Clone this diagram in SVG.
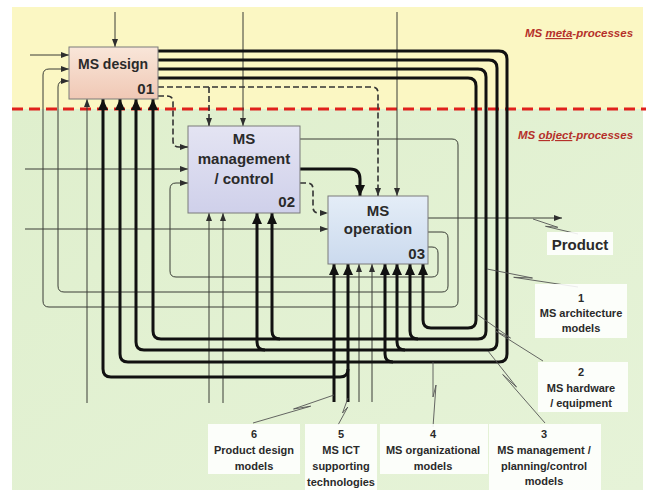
<svg xmlns="http://www.w3.org/2000/svg" width="646" height="490" viewBox="0 0 646 490">
  <defs>
    <linearGradient id="g01" x1="0" y1="0" x2="0" y2="1">
      <stop offset="0" stop-color="#f9e6d9"/>
      <stop offset="1" stop-color="#f0c8b5"/>
    </linearGradient>
    <linearGradient id="g02" x1="0" y1="0" x2="0" y2="1">
      <stop offset="0" stop-color="#e4e4f3"/>
      <stop offset="1" stop-color="#cfd0ea"/>
    </linearGradient>
    <linearGradient id="g03" x1="0" y1="0" x2="0" y2="1">
      <stop offset="0" stop-color="#e4edf7"/>
      <stop offset="1" stop-color="#cbdaee"/>
    </linearGradient>
    <linearGradient id="gLow" x1="0" y1="0" x2="1" y2="1">
      <stop offset="0" stop-color="#dfefcd"/>
      <stop offset="1" stop-color="#e6f3d8"/>
    </linearGradient>
    <marker id="ah" viewBox="0 0 8 6" refX="8" refY="3" markerWidth="8" markerHeight="6" markerUnits="userSpaceOnUse" orient="auto">
      <path d="M0 0L8 3L0 6z" fill="#2e2e2e"/>
    </marker>
    <marker id="ahb" viewBox="0 0 11 10" refX="11" refY="5" markerWidth="11" markerHeight="10" markerUnits="userSpaceOnUse" orient="auto">
      <path d="M0 0L11 5L0 10z" fill="#111"/>
    </marker>
    <style>
      .thin{fill:none;stroke:#3a3d36;stroke-width:1}
      .thick{fill:none;stroke:#111;stroke-width:3}
      .dash{fill:none;stroke:#333;stroke-width:1.6;stroke-dasharray:6 3}
      .box{stroke:#7a7a7a;stroke-width:1}
      .bt{font-family:"Liberation Sans",Arial,sans-serif;font-weight:bold;font-size:15px;fill:#2a2a2a;text-anchor:middle}
      .num{font-family:"Liberation Sans",Arial,sans-serif;font-weight:bold;font-size:15px;fill:#2a2a2a;text-anchor:end}
      .lbl{font-family:"Liberation Sans",Arial,sans-serif;font-weight:bold;font-size:11px;fill:#2a2a2a;text-anchor:middle}
      .zone{font-family:"Liberation Sans",Arial,sans-serif;font-weight:bold;font-style:italic;font-size:11.5px;fill:#b5302a}
      .lead{fill:none;stroke:#555;stroke-width:0.9}
      .lbg{fill:#ffffff;opacity:0.88}
    </style>
  </defs>

  <!-- background zones -->
  <rect x="12" y="7" width="631" height="102" fill="#fbf7c3"/>
  <rect x="12" y="109" width="631" height="381" fill="url(#gLow)"/>
  <line x1="12" y1="109" x2="646" y2="109" stroke="#e0211c" stroke-width="3" stroke-dasharray="11 6"/>
  <text class="zone" x="525" y="37">MS <tspan text-decoration="underline">meta</tspan>-processes</text>
  <text class="zone" x="518" y="139">MS <tspan text-decoration="underline">object</tspan>-processes</text>

  <g id="connectors">
    <!-- thin inputs, controls, feedback loops and mechanisms -->
    <path class="thin" marker-end="url(#ah)" d="M115 12V47"/>
    <path class="thin" marker-end="url(#ah)" d="M30 55H69"/>
    <path class="thin" marker-end="url(#ah)" d="M300 139H452Q458 139 458 145V301Q458 307 452 307H49Q43 307 43 301V75Q43 69 49 69H69"/>
    <path class="thin" marker-end="url(#ah)" d="M428 232H442Q448 232 448 238V286Q448 292 442 292H64Q58 292 58 286V87Q58 81 64 81H69"/>
    <path class="thin" marker-end="url(#ah)" d="M428 247H432Q438 247 438 253V271Q438 277 432 277H176Q170 277 170 271V189Q170 183 176 183H188"/>
    <path class="thin" marker-end="url(#ah)" d="M25 169H188"/>
    <path class="thin" marker-end="url(#ah)" d="M25 229H328"/>
    <path class="thin" marker-end="url(#ah)" d="M243 12V126"/>
    <path class="thin" marker-end="url(#ah)" d="M397 12V196"/>
    <path class="thin" marker-end="url(#ah)" d="M87 403V99"/>
    <path class="thin" marker-end="url(#ah)" d="M209 403V213"/>
    <path class="thin" marker-end="url(#ah)" d="M223 403V213"/>
    <path class="thin" marker-end="url(#ah)" d="M359 402V264"/>
    <path class="thin" marker-end="url(#ah)" d="M372 402V264"/>
    <path class="thin" marker-end="url(#ah)" d="M428 218H562"/>

    <!-- dashed control links -->
    <path class="dash" marker-end="url(#ah)" d="M158 96H167Q173 96 173 102V141Q173 147 179 147H188"/>
    <path class="dash" marker-end="url(#ah)" d="M158 87H372Q378 87 378 93V196"/>
    <path class="dash" marker-end="url(#ah)" d="M209 87V126"/>
    <path class="dash" marker-end="url(#ah)" d="M300 183H307Q313 183 313 189V207Q313 213 319 213H328"/>

    <!-- thick model flows -->
    <path class="thick" marker-end="url(#ahb)" d="M300 169H350Q360 169 360 179V196"/>
    <path class="thick" marker-end="url(#ahb)" d="M158 78H468Q476 78 476 86V320Q476 328 468 328H431Q423 328 423 320V264"/>
    <path class="thick" marker-end="url(#ahb)" d="M158 69H478Q486 69 486 77V331Q486 339 478 339H161Q153 339 153 331V99"/>
    <path class="thick" marker-end="url(#ahb)" d="M418 339Q410 339 410 331V264"/>
    <path class="thick" marker-end="url(#ahb)" d="M280 339Q272 339 272 331V213"/>
    <path class="thick" marker-end="url(#ahb)" d="M158 60H489Q497 60 497 68V342Q497 350 489 350H144Q136 350 136 342V99"/>
    <path class="thick" marker-end="url(#ahb)" d="M405 350Q397 350 397 342V264"/>
    <path class="thick" marker-end="url(#ahb)" d="M265 350Q257 350 257 342V213"/>
    <path class="thick" marker-end="url(#ahb)" d="M158 51H499Q507 51 507 59V354Q507 362 499 362H128Q120 362 120 354V99"/>
    <path class="thick" marker-end="url(#ahb)" d="M393 362Q385 362 385 354V264"/>
    <path class="thick" marker-end="url(#ahb)" d="M334 402V264"/>
    <path class="thick" marker-end="url(#ahb)" d="M348 402V264"/>
    <path class="thick" marker-end="url(#ahb)" d="M348 369Q348 377 340 377H111Q103 377 103 369V99"/>

    <!-- label leaders with squiggles -->
    <path class="lead" d="M533 219L557.8 227.3L545.5 226.3L578 234"/>
    <path class="lead" d="M487 269L532.5 278L513.7 277.3L578 287"/>
    <path class="lead" d="M478 315L510.5 338L495.8 331.3L543 361"/>
    <path class="lead" d="M488 351L516.5 387L502.7 374.5L545 423"/>
    <path class="lead" d="M433 362L433 397L436 385L433 427"/>
    <path class="lead" d="M348 398L342.5 413L347.8 407L338 425"/>
    <path class="lead" d="M334 395L293.5 409L310.7 406.2L253 423"/>
  </g>

  <g id="box01">
    <rect class="box" x="69" y="47" width="89" height="52" fill="url(#g01)"/>
    <text class="bt" x="113" y="69" style="font-size:14px">MS design</text>
    <text class="num" x="154" y="94">01</text>
  </g>
  <g id="box02">
    <rect class="box" x="188" y="126" width="112" height="87" fill="url(#g02)"/>
    <text class="bt" x="244" y="144">MS</text>
    <text class="bt" x="244" y="164">management</text>
    <text class="bt" x="244" y="184">/ control</text>
    <text class="num" x="295" y="207">02</text>
  </g>
  <g id="box03">
    <rect class="box" x="328" y="196" width="100" height="68" fill="url(#g03)"/>
    <text class="bt" x="378" y="216">MS</text>
    <text class="bt" x="378" y="234">operation</text>
    <text class="num" x="425" y="259">03</text>
  </g>

  <g id="labels">
    <g id="label-product">
      <rect class="lbg" x="547" y="232" width="66" height="23"/>
      <text class="bt" x="580" y="250">Product</text>
    </g>
    <g id="label-1">
      <rect class="lbg" x="535" y="284" width="92" height="54"/>
      <text class="lbl" x="581" y="302">1</text>
      <text class="lbl" x="581" y="317">MS architecture</text>
      <text class="lbl" x="581" y="332">models</text>
    </g>
    <g id="label-2">
      <rect class="lbg" x="538" y="362" width="90" height="50"/>
      <text class="lbl" x="581" y="376">2</text>
      <text class="lbl" x="581" y="392">MS hardware</text>
      <text class="lbl" x="581" y="407">/ equipment</text>
    </g>
    <g id="label-3">
      <rect class="lbg" x="489" y="424" width="112" height="66"/>
      <text class="lbl" x="544" y="438">3</text>
      <text class="lbl" x="544" y="454">MS management /</text>
      <text class="lbl" x="544" y="470">planning/control</text>
      <text class="lbl" x="544" y="485">models</text>
    </g>
    <g id="label-4">
      <rect class="lbg" x="380" y="424" width="108" height="50"/>
      <text class="lbl" x="433" y="438">4</text>
      <text class="lbl" x="433" y="454">MS organizational</text>
      <text class="lbl" x="433" y="470">models</text>
    </g>
    <g id="label-5">
      <rect class="lbg" x="305" y="424" width="72" height="66"/>
      <text class="lbl" x="341" y="438">5</text>
      <text class="lbl" x="341" y="454">MS ICT</text>
      <text class="lbl" x="341" y="470">supporting</text>
      <text class="lbl" x="341" y="486">technologies</text>
    </g>
    <g id="label-6">
      <rect class="lbg" x="208" y="424" width="92" height="50"/>
      <text class="lbl" x="254" y="438">6</text>
      <text class="lbl" x="254" y="454">Product design</text>
      <text class="lbl" x="254" y="470">models</text>
    </g>
  </g>
</svg>
